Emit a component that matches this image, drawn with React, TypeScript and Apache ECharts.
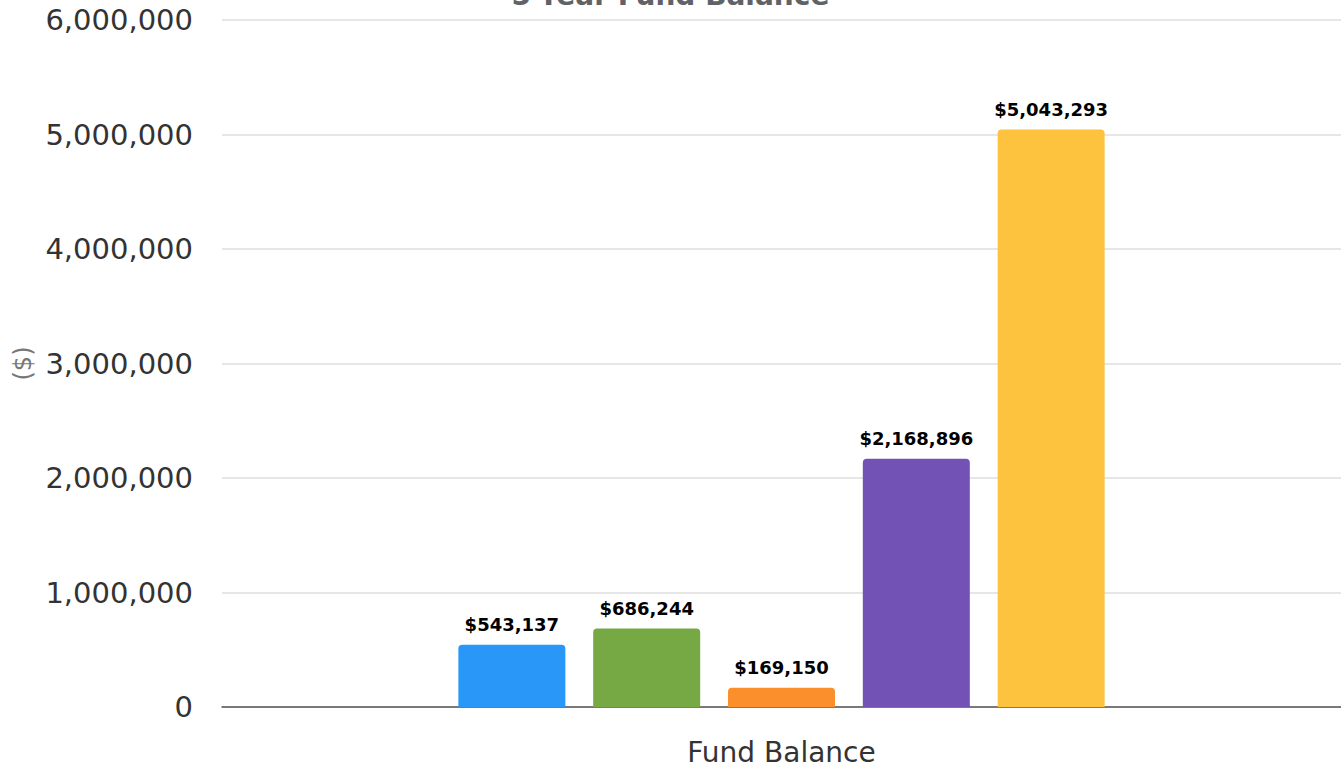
import React, { useEffect, useRef } from "react";
import * as echarts from "echarts";

const categories = ["Fund Balance"];
const seriesNames = ["Year 1", "Year 2", "Year 3", "Year 4", "Year 5"];
const seriesValues = [543137, 686244, 169150, 2168896, 5043293];
const seriesColors = ["#2997f8", "#76a943", "#fb8f2c", "#7352b6", "#fdc23e"];
const yTicks = { min: 0, max: 6000000, interval: 1000000 };

const FONT = "DejaVu Sans";

export default function App() {
  const ref = useRef<HTMLDivElement>(null);
  useEffect(() => {
    if (!ref.current) return;
    const chart = echarts.init(ref.current, undefined, { renderer: "svg" });
    chart.setOption({
      animation: false,
      title: {
        text: "5-Year Fund Balance",
        left: "center",
        top: -24,
        textStyle: { fontFamily: FONT, fontSize: 28, fontWeight: "bold", color: "#5f6368" },
      },
      grid: { left: 222, right: 0, top: 20, bottom: 60, containLabel: false },
      xAxis: {
        type: "category",
        data: categories,
        axisTick: { show: false },
        axisLine: { lineStyle: { color: "#555555", width: 1.5 } },
        axisLabel: { fontFamily: FONT, fontSize: 28, lineHeight: 28, color: "#333333", margin: 31 },
      },
      yAxis: {
        type: "value",
        min: yTicks.min,
        max: yTicks.max,
        interval: yTicks.interval,
        name: "($)",
        nameLocation: "middle",
        nameGap: 186,
        nameRotate: 90,
        nameTextStyle: { fontFamily: FONT, fontSize: 24, color: "#777777" },
        axisLine: { show: false },
        axisTick: { show: false },
        splitLine: { lineStyle: { color: "#e6e6e6", width: 2 } },
        axisLabel: {
          fontFamily: FONT,
          fontSize: 29,
          color: "#333333",
          margin: 29,
          formatter: (v: number) => v.toLocaleString("en-US"),
        },
      },
      series: seriesNames.map((name, i) => ({
        name,
        type: "bar",
        data: [seriesValues[i]],
        barWidth: 107,
        barGap: "26%",
        itemStyle: { color: seriesColors[i], borderRadius: [4, 4, 0, 0] },
        label: {
          show: true,
          position: "top",
          distance: 11,
          fontFamily: FONT,
          fontSize: 18,
          fontWeight: "bold",
          color: "#000000",
          formatter: (p: any) => "$" + Number(p.value).toLocaleString("en-US"),
        },
      })),
    });
    return () => chart.dispose();
  }, []);
  return <div ref={ref} style={{ width: 1341, height: 767, position: "absolute", left: 0, top: 0 }} />;
}
